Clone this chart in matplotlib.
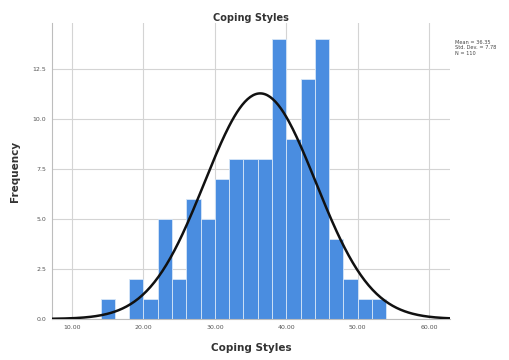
import numpy as np
import matplotlib.pyplot as plt

# histogram bins (left edges, width 2) and counts
bin_starts = [14, 16, 18, 20, 22, 24, 26, 28, 30, 32, 34, 36, 38, 40, 42, 44, 46, 48, 50, 52]
counts = [1, 0, 2, 1, 5, 2, 6, 5, 7, 8, 8, 8, 14, 9, 12, 14, 4, 2, 1, 1]
bin_width = 2

# summary stats shown in the legend box
mean = 36.35
std_dev = 7.78
n = 110

x_ticks = [10, 20, 30, 40, 50, 60]
y_ticks = [0.0, 2.5, 5.0, 7.5, 10.0, 12.5]

fig = plt.figure(figsize=(5.1, 3.6), dpi=100)
ax = fig.add_axes([0.102, 0.114, 0.78, 0.822])

ax.bar(bin_starts, counts, width=bin_width, align='edge', color='#4a8de0',
       edgecolor='#d6e6f8', linewidth=0.6, zorder=2)

# fitted normal curve
xs = np.linspace(7.2, 62.9, 300)
ys = n * bin_width / (std_dev * np.sqrt(2 * np.pi)) * np.exp(-0.5 * ((xs - mean) / std_dev) ** 2)
ax.plot(xs, ys, color='#111111', linewidth=1.8, zorder=3)

ax.set_xlim(7.2, 62.9)
ax.set_ylim(0, 14.8)
ax.set_xticks(x_ticks)
ax.set_xticklabels([f"{t:.2f}" for t in x_ticks])
ax.set_yticks(y_ticks)
ax.set_yticklabels([f"{t:.1f}" for t in y_ticks])
ax.tick_params(length=0, labelsize=4.5, labelcolor='#555555', pad=4)
ax.grid(True, color='#d4d4d4', linewidth=0.8, zorder=0)
ax.set_axisbelow(True)
for side in ['top', 'right']:
    ax.spines[side].set_visible(False)
for side in ['left', 'bottom']:
    ax.spines[side].set_color('#bdbdbd')
    ax.spines[side].set_linewidth(0.8)

ax.set_title('Coping Styles', fontsize=7, fontweight='bold', color='#333333', pad=1)
ax.set_xlabel('Coping Styles', fontsize=7.5, fontweight='bold', color='#333333', labelpad=10)
ax.set_ylabel('Frequency', fontsize=7.5, fontweight='bold', color='#333333', labelpad=9)

fig.text(0.893, 0.89, f"Mean = {mean:.2f}\nStd. Dev. = {std_dev:.2f}\nN = {n}",
         fontsize=3.6, color='#444444', va='top', ha='left', linespacing=1.2)

fig.savefig('out.png', dpi=100, facecolor='white')
